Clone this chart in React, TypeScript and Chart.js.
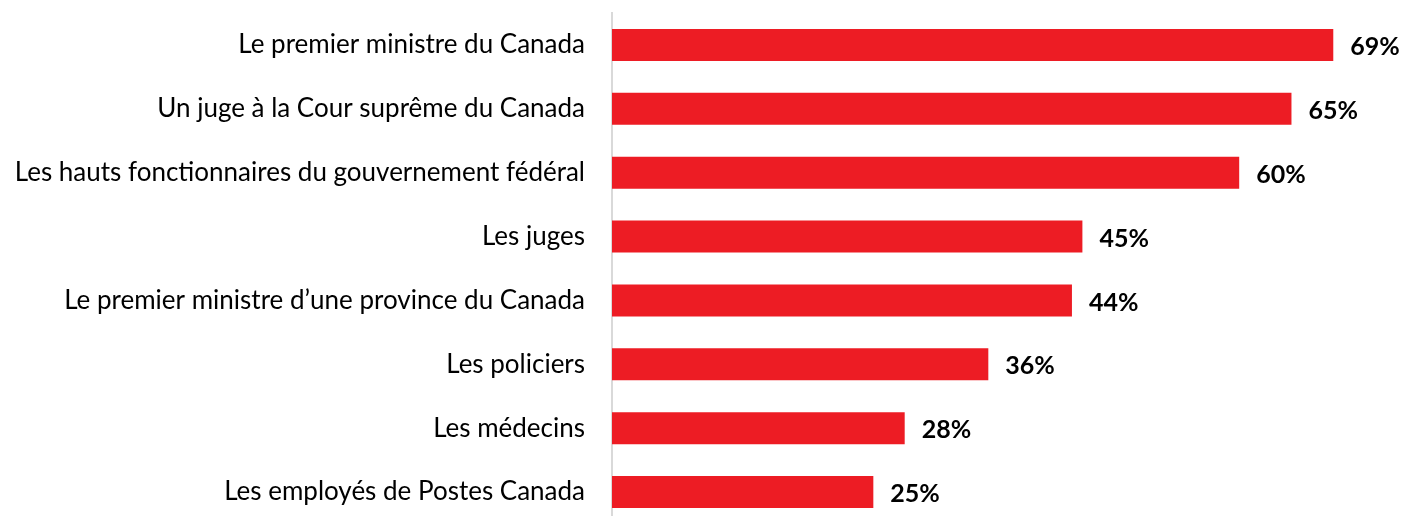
import React, { useEffect, useRef } from "react";
import { Chart, registerables } from "chart.js";

Chart.register(...registerables);

const categories = [
  "Le premier ministre du Canada",
  "Un juge à la Cour suprême du Canada",
  "Les hauts fonctionnaires du gouvernement fédéral",
  "Les juges",
  "Le premier ministre d\u2019une province du Canada",
  "Les policiers",
  "Les médecins",
  "Les employés de Postes Canada",
];
const values = [69, 65, 60, 45, 44, 36, 28, 25];

const FONT = "Lato, 'Open Sans', sans-serif";

const valueLabels = {
  id: "valueLabels",
  afterDatasetsDraw(chart: any) {
    const ctx = chart.ctx;
    const meta = chart.getDatasetMeta(0);
    ctx.save();
    ctx.font = `bold 25px ${FONT}`;
    ctx.fillStyle = "#000000";
    ctx.textAlign = "left";
    ctx.textBaseline = "middle";
    meta.data.forEach((bar: any, i: number) => {
      ctx.fillText(values[i] + "%", bar.x + 17, bar.y + 2);
    });
    ctx.restore();
  },
};

export default function App() {
  const ref = useRef<HTMLCanvasElement>(null);
  useEffect(() => {
    if (!ref.current) return;
    const chart = new Chart(ref.current, {
      type: "bar",
      data: {
        labels: categories,
        datasets: [
          {
            data: values,
            backgroundColor: "#ED1C24",
            barPercentage: 0.5,
            categoryPercentage: 1,
          },
        ],
      },
      options: {
        indexAxis: "y",
        animation: false,
        responsive: false,
        maintainAspectRatio: false,
        layout: { padding: { top: 13, right: 8, left: 0, bottom: 0 } },
        plugins: { legend: { display: false }, tooltip: { enabled: false } },
        scales: {
          x: { display: false, min: 0, max: 75 },
          y: {
            grid: { display: false, drawTicks: false },
            border: { display: true, color: "#d9d9d9", width: 2 },
            ticks: {
              color: "#000000",
              padding: 27,
              font: { family: FONT, size: 26 },
            },
            afterFit(scale: any) {
              scale.width = 612;
              scale.paddingTop = 0;
              scale.paddingBottom = 0;
            },
          },
        },
      },
      plugins: [valueLabels],
    });
    return () => chart.destroy();
  }, []);
  return (
    <div style={{ position: "fixed", left: 0, top: 0, width: 1404, height: 516, overflow: "hidden", background: "#fff" }}>
      <canvas ref={ref} width={1404} height={524} style={{ display: "block" }} />
    </div>
  );
}
